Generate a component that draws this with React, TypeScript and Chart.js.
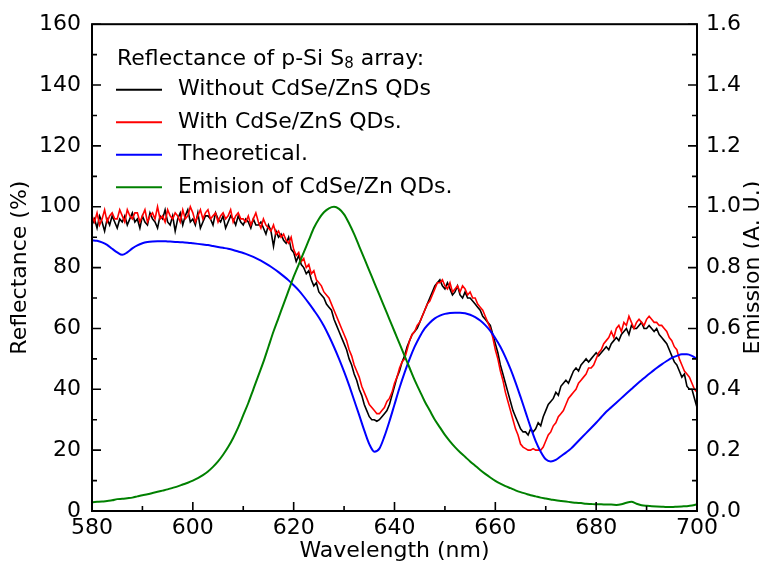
import React, { useEffect, useRef } from 'react';
import { Chart, registerables } from 'chart.js';

Chart.register(...registerables);

const FONT = "'DejaVu Sans', 'Liberation Sans', sans-serif";

// Axis tick labels
const xTicks = [580, 600, 620, 640, 660, 680, 700];
const yTicks = [0, 20, 40, 60, 80, 100, 120, 140, 160];
const y2Ticks = [0, 0.2, 0.4, 0.6, 0.8, 1.0, 1.2, 1.4, 1.6];

// Legend texts
const legendTitleA = 'Reflectance of p-Si S';
const legendTitleSub = '8';
const legendTitleB = ' array:';
const seriesLabels = [
  'Without CdSe/ZnS QDs',
  'With CdSe/ZnS QDs.',
  'Theoretical.',
  'Emision of CdSe/Zn QDs.',
];
const seriesColors = ['#000000', '#ff0000', '#0000ff', '#008000'];

// Reflectance without QDs (%), 580–700 nm every 0.5 nm
const withoutQDs = [
  94, 96, 93, 97, 95, 92, 96, 94, 97, 95, 93, 96, 95, 97, 94, 96, 98, 95, 96, 93,
  97, 95, 94, 98, 96, 95, 93, 97, 96, 99, 95, 94, 97, 92, 96, 98, 94, 97, 99, 95,
  96, 94, 98, 93, 95, 97, 97, 96, 94, 98, 96, 95, 97, 93, 95, 97, 96, 94, 97, 95,
  94, 96, 95, 93, 96, 94, 94, 95, 93, 91, 94, 92, 87, 92, 90, 91, 89, 88, 90, 86,
  85, 82, 84, 81, 80, 78, 79, 76, 74, 75, 72, 71, 70, 68, 67, 66, 63, 61, 59, 57,
  55, 53, 50, 48, 45, 43, 40, 38, 35, 33, 31, 30, 30, 29.5, 30, 31, 32, 33, 35, 38,
  41, 44, 46, 49, 51, 54, 56, 58, 59, 60, 62, 64, 66, 68, 70, 72, 74, 75, 76, 74,
  73, 75, 73, 71, 72, 74, 71, 70, 72, 70, 70, 69, 68, 67, 66, 64, 63, 62, 61, 58,
  55, 52, 48, 45, 42, 39, 36, 33, 31, 29, 27, 26, 26, 25, 27, 26, 27, 29, 28, 31,
  33, 35, 36, 37, 39, 38, 41, 42, 43, 42, 44, 46, 47, 46, 48, 49, 50, 49, 50, 51,
  52, 51, 52, 53, 54, 53, 55, 56, 57, 56, 58, 59, 60, 58, 61, 60, 60, 61, 62, 60,
  60, 61, 60, 59, 60, 58, 57, 56, 55, 53, 51, 49, 48, 46, 44, 45, 41, 40, 40, 37,
  34,
];

// Reflectance with QDs (%), 580–700 nm every 0.5 nm
const withQDs = [
  97, 95, 98, 94, 96, 99, 95, 97, 98, 96, 96, 99, 97, 95, 99, 97, 96, 98, 98, 95,
  97, 99, 95, 97, 98, 96, 100, 96, 97, 95, 99, 97, 96, 98, 97, 95, 99, 96, 97, 100,
  98, 95, 97, 99, 96, 98, 99, 96, 97, 98, 95, 97, 98, 96, 97, 99, 95, 97, 98, 96,
  96, 95, 97, 94, 96, 98, 95, 93, 96, 94, 93, 92, 94, 91, 92, 90, 91, 89, 88, 90,
  86, 84, 85, 82, 83, 80, 81, 78, 79, 76, 75, 74, 72, 71, 70, 68, 66, 64, 62, 60,
  58, 56, 53, 51, 48, 46, 44, 41, 39, 37, 35, 34, 33, 32, 32, 33, 34, 36, 37, 39,
  42, 44, 47, 49, 50, 53, 56, 58, 59, 61, 62, 64, 66, 68, 69, 71, 73, 75, 75, 76,
  74, 73, 75, 72, 73, 74, 72, 74, 73, 71, 72, 70, 70, 68, 67, 66, 64, 62, 60, 57,
  53, 50, 46, 43, 39, 36, 33, 30, 27, 25, 22, 21, 20.5, 20, 20, 20.5, 20, 20, 20, 21,
  23, 25, 26, 28, 29, 31, 32, 33, 35, 37, 38, 39, 40, 42, 43, 44, 45, 47, 47, 48,
  50, 52, 53, 55, 56, 57, 59, 57, 60, 61, 59, 62, 61, 64, 62, 60, 62, 63, 62, 61,
  63, 64, 63, 62, 62, 61, 61, 60, 59, 57, 56, 54, 53, 50, 48, 46, 45, 44, 42, 40,
  39,
];

// Theoretical reflectance (%), 580–700 nm every 1 nm
const theoretical = [
  89, 88.8, 88.3, 87.5, 86.2, 85, 84.2, 85, 86.3, 87.3,
  88, 88.4, 88.6, 88.7, 88.7, 88.6, 88.5, 88.4, 88.3, 88.2,
  88, 87.8, 87.6, 87.4, 87.1, 86.8, 86.5, 86.2, 85.8, 85.3,
  84.8, 84.2, 83.5, 82.7, 81.8, 80.8, 79.7, 78.5, 77.2, 75.8,
  74.2, 72.5, 70.5, 68.3, 66, 63.6, 60.8, 57.5, 53.9, 50,
  45.8, 41.3, 36.4, 31.5, 26.5, 22, 19.5, 20.5, 24.5, 29.5,
  35, 40.5, 45.5, 50, 54, 57.3, 60, 61.9, 63.3, 64.2,
  64.8, 65.1, 65.2, 65.2, 65, 64.5, 63.7, 62.6, 61.1, 59.2,
  56.8, 54, 50.6, 46.7, 42.3, 37.5, 32.5, 27.5, 23, 19.5,
  17, 16.3, 16.8, 18, 19.2, 20.5, 22.2, 23.9, 25.6, 27.3,
  29, 30.8, 32.6, 34.1, 35.6, 37.1, 38.6, 40.1, 41.6, 43,
  44.4, 45.7, 47, 48.2, 49.3, 50.3, 51, 51.5, 51.5, 51,
  50,
];

// Emission of CdSe/ZnS QDs (A. U.), 580–700 nm every 1 nm
const emission = [
  0.029, 0.030, 0.031, 0.033, 0.035, 0.039, 0.040, 0.042, 0.044, 0.048,
  0.052, 0.055, 0.059, 0.063, 0.067, 0.071, 0.076, 0.081, 0.087, 0.093,
  0.100, 0.108, 0.118, 0.130, 0.145, 0.163, 0.185, 0.21, 0.24, 0.275,
  0.315, 0.355, 0.40, 0.445, 0.49, 0.54, 0.59, 0.635, 0.68, 0.725,
  0.77, 0.81, 0.85, 0.89, 0.93, 0.96, 0.982, 0.995, 1.0, 0.993,
  0.975, 0.945, 0.91, 0.87, 0.83, 0.79, 0.75, 0.71, 0.67, 0.63,
  0.59, 0.55, 0.51, 0.47, 0.43, 0.395, 0.36, 0.33, 0.30, 0.275,
  0.25, 0.229, 0.21, 0.193, 0.178, 0.163, 0.149, 0.135, 0.122, 0.11,
  0.099, 0.09, 0.082, 0.075, 0.068, 0.062, 0.057, 0.052, 0.048, 0.044,
  0.041, 0.038, 0.035, 0.033, 0.031, 0.029, 0.027, 0.026, 0.024, 0.023,
  0.022, 0.022, 0.021, 0.021, 0.02, 0.022, 0.027, 0.03, 0.024, 0.019,
  0.017, 0.016, 0.015, 0.014, 0.013, 0.013, 0.014, 0.015, 0.016, 0.018,
  0.022,
];

const fineWavelengths = withoutQDs.map((_, i) => 580 + i * 0.5);
const wavelengths = theoretical.map((_, i) => 580 + i);
const toPoints = (xs: number[], ys: number[]) => ys.map((y, i) => ({ x: xs[i], y }));

const framePlugin = {
  id: 'frame',
  afterDatasetsDraw(chart: any) {
    const { ctx, chartArea: a, scales } = chart;
    ctx.save();
    ctx.strokeStyle = '#000';
    ctx.lineWidth = 2;
    ctx.strokeRect(a.left, a.top, a.right - a.left, a.bottom - a.top);
    ctx.lineWidth = 1.6;
    ctx.beginPath();
    for (let v = 580; v <= 700; v += 10) {
      const px = scales.x.getPixelForValue(v);
      const len = v % 20 === 0 ? 9 : 5;
      ctx.moveTo(px, a.bottom);
      ctx.lineTo(px, a.bottom - len);
    }
    for (let v = 0; v <= 160; v += 10) {
      const py = scales.y.getPixelForValue(v);
      const len = v % 20 === 0 ? 9 : 5;
      ctx.moveTo(a.left, py);
      ctx.lineTo(a.left + len, py);
    }
    for (let k = 0; k <= 16; k++) {
      const py = scales.y2.getPixelForValue(k / 10);
      const len = k % 2 === 0 ? 9 : 5;
      ctx.moveTo(a.right, py);
      ctx.lineTo(a.right - len, py);
    }
    ctx.stroke();
    ctx.restore();
  },
  afterDraw(chart: any) {
    const { ctx, chartArea: a } = chart;
    ctx.save();
    ctx.fillStyle = '#000';
    ctx.textBaseline = 'middle';
    ctx.textAlign = 'left';
    // legend title
    const tx = a.left + 25;
    const ty = a.top + 35;
    ctx.font = `22px ${FONT}`;
    ctx.fillText(legendTitleA, tx, ty);
    const w = ctx.measureText(legendTitleA).width;
    ctx.font = `15px ${FONT}`;
    ctx.fillText(legendTitleSub, tx + w, ty + 5);
    const ws = ctx.measureText(legendTitleSub).width;
    ctx.font = `22px ${FONT}`;
    ctx.fillText(legendTitleB, tx + w + ws, ty);
    // entries
    seriesLabels.forEach((label, i) => {
      const y = a.top + 65.5 + i * 32.5;
      ctx.strokeStyle = seriesColors[i];
      ctx.lineWidth = 2;
      ctx.beginPath();
      ctx.moveTo(a.left + 24, y);
      ctx.lineTo(a.left + 70, y);
      ctx.stroke();
      ctx.fillText(label, a.left + 86, y);
    });
    // right axis title (reads bottom to top)
    ctx.translate(753, (a.top + a.bottom) / 2);
    ctx.rotate(-Math.PI / 2);
    ctx.textAlign = 'center';
    ctx.fillText('Emission (A. U.)', 0, 0);
    ctx.restore();
  },
};

export default function App() {
  const canvasRef = useRef<HTMLCanvasElement | null>(null);

  useEffect(() => {
    if (!canvasRef.current) return;
    Chart.defaults.font.family = FONT;
    Chart.defaults.color = '#000';
    const chart = new Chart(canvasRef.current, {
      type: 'line',
      data: {
        datasets: [
          {
            label: seriesLabels[3],
            data: toPoints(wavelengths, emission),
            yAxisID: 'y2',
            borderColor: seriesColors[3],
            borderWidth: 2,
            pointRadius: 0,
            cubicInterpolationMode: 'monotone',
          },
          {
            label: seriesLabels[2],
            data: toPoints(wavelengths, theoretical),
            yAxisID: 'y',
            borderColor: seriesColors[2],
            borderWidth: 2,
            pointRadius: 0,
            cubicInterpolationMode: 'monotone',
          },
          {
            label: seriesLabels[1],
            data: toPoints(fineWavelengths, withQDs),
            yAxisID: 'y',
            borderColor: seriesColors[1],
            borderWidth: 1.6,
            pointRadius: 0,
            tension: 0,
          },
          {
            label: seriesLabels[0],
            data: toPoints(fineWavelengths, withoutQDs),
            yAxisID: 'y',
            borderColor: seriesColors[0],
            borderWidth: 1.6,
            pointRadius: 0,
            tension: 0,
          },
        ],
      },
      options: {
        responsive: false,
        maintainAspectRatio: false,
        animation: false,
        layout: { padding: { top: 17, left: 0, right: 0, bottom: 0 } },
        plugins: { legend: { display: false }, tooltip: { enabled: false } },
        scales: {
          x: {
            type: 'linear',
            position: 'bottom',
            min: 580,
            max: 700,
            grid: { display: false, drawTicks: false },
            border: { display: false },
            ticks: { font: { size: 22 }, color: '#000', padding: 4, maxRotation: 0, autoSkip: false },
            afterBuildTicks: (s: any) => {
              s.ticks = xTicks.map((value) => ({ value }));
            },
            afterFit: (s: any) => {
              s.height = 55;
            },
            title: {
              display: true,
              text: 'Wavelength (nm)',
              font: { size: 22 },
              color: '#000',
              padding: { top: 0, bottom: 2 },
            },
          },
          y: {
            type: 'linear',
            position: 'left',
            min: 0,
            max: 160,
            grid: { display: false, drawTicks: false },
            border: { display: false },
            ticks: { font: { size: 22 }, color: '#000', padding: 11 },
            afterBuildTicks: (s: any) => {
              s.ticks = yTicks.map((value) => ({ value }));
            },
            afterFit: (s: any) => {
              s.width = 92;
            },
            title: {
              display: true,
              text: 'Reflectance (%)',
              font: { size: 22 },
              color: '#000',
              padding: { top: 7, bottom: 0 },
            },
          },
          y2: {
            type: 'linear',
            position: 'right',
            min: 0,
            max: 1.6,
            grid: { display: false, drawTicks: false },
            border: { display: false },
            ticks: {
              font: { size: 22 },
              color: '#000',
              padding: 9,
              callback: (v: any) => Number(v).toFixed(1),
            },
            afterBuildTicks: (s: any) => {
              s.ticks = y2Ticks.map((value) => ({ value }));
            },
            afterFit: (s: any) => {
              s.width = 62;
            },
          },
        },
      },
      plugins: [framePlugin],
    });
    return () => chart.destroy();
  }, []);

  return (
    <div style={{ position: 'fixed', left: 0, top: 0, width: 759, height: 566, background: '#fff' }}>
      <canvas ref={canvasRef} width={759} height={566} style={{ width: 759, height: 566 }} />
    </div>
  );
}
